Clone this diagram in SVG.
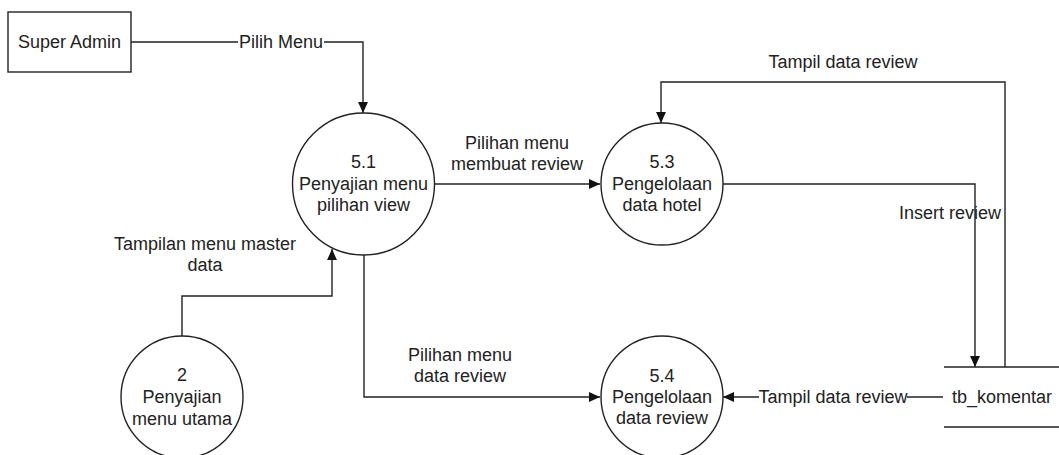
<svg xmlns="http://www.w3.org/2000/svg" width="1059" height="455" viewBox="0 0 1059 455">
<style>
text{font-family:"Liberation Sans",Arial,sans-serif;font-size:18px;fill:#222;text-anchor:middle}
.n{fill:#fff;stroke:#222;stroke-width:1.4}
.c{fill:none;stroke:#222;stroke-width:1.4}
.lb{fill:#fff;stroke:none}
</style>
<defs>
<marker id="ah" viewBox="0 0 10 10" refX="10" refY="5" markerWidth="11" markerHeight="11" markerUnits="userSpaceOnUse" orient="auto">
<path d="M0,0.5 L10,5 L0,9.5 Z" fill="#111"/>
</marker>
</defs>
<rect width="1059" height="455" fill="#fff"/>
<g id="connectors">
<path class="c" d="M131,42 H363 V113" marker-end="url(#ah)"/>
<path class="c" d="M434,184 H600" marker-end="url(#ah)"/>
<path class="c" d="M182,336 V296 H332 V249" marker-end="url(#ah)"/>
<path class="c" d="M364,255 V397 H600" marker-end="url(#ah)"/>
<path class="c" d="M723,184 H975 V367" marker-end="url(#ah)"/>
<path class="c" d="M1005,367 V82 H661 V123" marker-end="url(#ah)"/>
<path class="c" d="M943,397 H723" marker-end="url(#ah)"/>
<rect class="lb" x="238" y="32" width="86" height="20"/>
<text x="281" y="48">Pilih Menu</text>
<text x="517" y="149">Pilihan menu</text>
<text x="517" y="170">membuat review</text>
<text x="205" y="250">Tampilan menu master</text>
<text x="205" y="271">data</text>
<text x="460" y="361">Pilihan menu</text>
<text x="460" y="382">data review</text>
<text x="843" y="68">Tampil data review</text>
<rect class="lb" x="897" y="202" width="76" height="24"/>
<text x="950" y="219">Insert review</text>
<rect class="lb" x="759" y="386" width="148" height="22"/>
<text x="833" y="403">Tampil data review</text>
</g>
<g id="super-admin">
<rect class="n" x="8" y="12" width="123" height="60"/>
<text x="69.5" y="48">Super Admin</text>
</g>
<g id="p51">
<circle class="n" cx="363.5" cy="184" r="71"/>
<text x="363.5" y="168">5.1</text>
<text x="363.5" y="190">Penyajian menu</text>
<text x="363.5" y="211">pilihan view</text>
</g>
<g id="p53">
<circle class="n" cx="662" cy="184" r="61"/>
<text x="662" y="168">5.3</text>
<text x="662" y="190">Pengelolaan</text>
<text x="662" y="211">data hotel</text>
</g>
<g id="p54">
<circle class="n" cx="662" cy="397" r="61"/>
<text x="662" y="382">5.4</text>
<text x="662" y="403">Pengelolaan</text>
<text x="662" y="424">data review</text>
</g>
<g id="p2">
<circle class="n" cx="182" cy="397" r="61"/>
<text x="182" y="381">2</text>
<text x="182" y="403">Penyajian</text>
<text x="182" y="425">menu utama</text>
</g>
<g id="tb-komentar">
<path class="c" d="M944,367 H1059 M944,427 H1059"/>
<text x="1002" y="403">tb_komentar</text>
</g>
</svg>
